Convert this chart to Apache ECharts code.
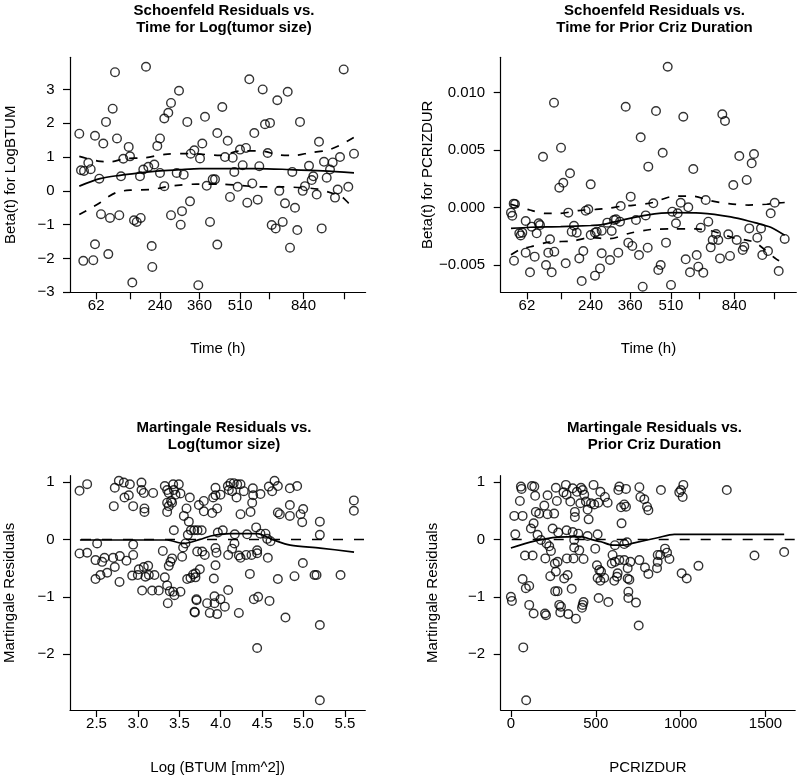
<!DOCTYPE html>
<html>
<head>
<meta charset="utf-8">
<script src="https://cdn.jsdelivr.net/npm/echarts@6/dist/echarts.min.js"></script>
<style>html,body{margin:0;padding:0;background:#fff;}#chart{width:798px;height:776px;}</style>
</head>
<body>
<div id="chart"></div>
<script>
// ---------- DATA ----------
// Top panels: x is the KM-transformed time scale (axis units 0..295.6)
const timeTickPos = [26.2, 60.3, 89.9, 129.5, 170.2, 198.8, 233.5, 273.9];
const timeTickLabels = ['62', '', '240', '360', '510', '', '840', ''];

const schoenfeldTumor = [
[9.3,1.69],[11.0,0.61],[14.0,0.59],[18.3,0.83],[20.7,0.64],[13.3,-2.07],[23.3,-2.05],[25.0,-1.58],[25.0,1.63],[29.3,0.36],[33.3,1.40],[31.0,-0.69],[36.0,2.04],[40.0,-0.80],[38.3,-1.87],[42.7,2.43],[45.0,3.51],[47.0,1.55],[49.3,-0.72],[51.0,0.43],[53.3,0.95],[58.7,1.30],[60.0,1.02],[62.3,-2.71],[64.0,-0.87],[66.7,-0.92],[70.7,-0.80],[70.0,0.43],[73.3,0.63],[76.0,3.67],[78.3,0.71],[81.7,-1.63],[82.3,-2.25],[84.3,0.78],[87.3,1.33],[90.0,1.55],[90.0,0.53],[94.3,2.14],[94.3,0.14],[98.3,2.31],[101.0,2.60],[101.0,-0.72],[106.7,0.53],[109.0,2.96],[110.7,-1.00],[112.0,-0.60],[113.7,0.48],[117.3,2.04],[120.0,-0.31],[120.7,1.10],[124.3,1.20],[128.3,-2.79],
[130.0,0.96],[132.3,1.40],[135.0,2.19],[136.7,0.15],[140.0,-0.92],[142.7,0.34],[145.0,0.34],[147.3,-1.59],[147.3,1.71],[152.3,2.48],[155.0,1.00],[157.7,1.48],[160.0,-0.18],[162.7,0.98],[164.3,0.56],[167.7,0.12],[170.0,1.22],[172.7,0.76],[176.0,1.27],[177.3,-0.35],[179.3,3.30],[182.3,0.22],[184.3,1.71],[187.7,-0.26],[189.3,0.73],[192.7,3.00],[195.0,1.97],[197.7,1.12],[200.0,2.01],[201.7,-1.01],[205.7,-1.11],[207.3,2.68],[209.3,0.00],[212.7,-0.92],[215.0,-0.37],[217.7,2.93],[220.0,-1.68],[222.3,0.56],[225.0,-0.50],[227.3,-1.16],[230.0,2.04],[232.7,0.00],[235.0,0.14],[239.0,0.74],[241.7,0.32],[243.3,0.43],[246.7,-0.11],[249.0,1.45],[251.7,-1.11],[254.0,0.86],[256.7,0.39],[260.0,0.63],[262.7,0.84],[265.0,-0.20],[267.7,0.04],[270.0,1.00],[273.7,3.59],[278.3,0.12],[284.0,1.10]
];
const tumorFit = [[9.3,0.14],[30,0.36],[50,0.46],[70,0.53],[90,0.59],[110,0.63],[130,0.66],[153,0.66],[187,0.66],[220,0.63],[253,0.59],[284,0.53]];
const tumorUpper = [[9.3,1.02],[28,0.88],[40,0.86],[55,0.95],[75,0.98],[95,1.08],[120,1.1],[150,1.05],[170,1.18],[190,1.18],[210,1.06],[225,1.05],[240,1.13],[257,1.2],[270,1.35],[284,1.58]];
const tumorLower = [[9.3,-0.7],[22,-0.49],[30,-0.35],[38,-0.18],[48,-0.03],[60,0.02],[80,0.04],[88,0.07],[100,0.14],[110,0.17],[127,0.2],[150,0.2],[170,0.16],[190,0.12],[210,0.12],[228,0.1],[248,0.05],[263,-0.08],[272,-0.18],[280,-0.4],[284,-0.45]];

const schoenfeldPcriz = [
[10.3,-0.43e-3],[11.6,-0.70e-3],[13.0,0.35e-3],[14.3,0.32e-3],[13.3,-4.61e-3],[18.6,-2.23e-3],[20.0,-2.41e-3],[21.6,-2.17e-3],[25.0,-1.16e-3],[25.0,-3.91e-3],[29.3,-5.62e-3],[31.0,-1.65e-3],[34.0,-4.26e-3],[36.0,-2.23e-3],[38.0,-1.36e-3],[39.3,-1.51e-3],[42.3,4.43e-3],[45.3,-4.99e-3],[47.6,-3.91e-3],[49.3,-2.75e-3],[51.0,-5.62e-3],[53.3,9.13e-3],[53.6,-3.83e-3],[58.6,1.74e-3],[60.3,5.22e-3],[62.6,2.17e-3],[65.0,-4.84e-3],[67.6,-0.43e-3],[69.3,2.99e-3],[71.0,-2.09e-3],[73.3,-1.57e-3],[76.0,-2.17e-3],[78.6,-4.41e-3],[81.0,-6.38e-3],[82.6,-3.77e-3],[85.0,-0.26e-3],[87.6,-0.14e-3],[90.0,2.03e-3],[90.0,-2.38e-3],[94.3,-2.17e-3],[94.3,-5.91e-3],[96.0,-2.09e-3],
[101.0,-2.0e-3],[101.0,-3.97e-3],[99.3,-5.28e-3],[106.6,-1.30e-3],[111.0,-2.03e-3],[109.3,-4.55e-3],[113.3,-1.07e-3],[115.3,-1.01e-3],[117.6,-3.91e-3],[119.3,-1.22e-3],[120.0,0.14e-3],[125.0,8.78e-3],[127.6,-3.04e-3],[130.0,0.96e-3],[131.6,-3.33e-3],[135.3,-1.07e-3],[138.3,-4.12e-3],[140.0,6.12e-3],[142.0,-6.87e-3],[145.0,-0.67e-3],[147.0,-3.48e-3],[147.6,3.57e-3],[152.6,0.38e-3],[155.3,8.41e-3],[157.6,-5.42e-3],[160.0,-4.99e-3],[162.0,4.78e-3],[165.3,-3.04e-3],[167.0,12.26e-3],[170.3,-6.72e-3],[171.6,-0.35e-3],[175.3,-1.36e-3],[177.0,-0.49e-3],[180.0,0.43e-3],[182.6,7.91e-3],[185.0,-4.49e-3],[187.6,0.03e-3],[189.3,-5.62e-3],[192.6,3.36e-3],[196.0,-4.12e-3],[197.6,-5.13e-3],[200.0,-1.74e-3],[202.6,-5.65e-3],[205.0,0.67e-3],[207.6,-1.22e-3],[210.0,-3.45e-3],[212.0,-2.81e-3],[215.3,-2.29e-3],[217.6,-2.81e-3],[219.3,-4.41e-3],[221.6,8.12e-3],[224.3,7.54e-3],[227.6,-2.32e-3],[229.3,-4.20e-3],[232.6,1.97e-3],[236.0,-2.81e-3],[238.6,4.49e-3],[242.0,-3.68e-3],[243.6,-3.39e-3],[246.0,2.41e-3],[248.6,-1.80e-3],[251.0,3.86e-3],[253.3,4.67e-3],[256.6,-2.61e-3],[260.3,-1.80e-3],[261.6,-4.12e-3],
[267.3,-3.77e-3],[270.0,-0.49e-3],[274.0,0.43e-3],[278.0,-5.51e-3],[284.0,-2.72e-3]
];
const pcrizFit = [[10.3,-1.8e-3],[30,-1.7e-3],[60,-1.65e-3],[90,-1.55e-3],[100,-1.5e-3],[122,-1.07e-3],[146,-0.64e-3],[172,-0.43e-3],[200,-0.47e-3],[230,-0.8e-3],[254,-1.3e-3],[262,-1.5e-3],[270,-1.7e-3],[284,-2.4e-3]];
const pcrizUpper = [[10.3,0.3e-3],[29,-0.2e-3],[45,-0.5e-3],[58,-0.5e-3],[78,-0.25e-3],[95,-0.15e-3],[108,-0.05e-3],[122,0.14e-3],[132,0.2e-3],[152,0.45e-3],[170,0.95e-3],[182,1.0e-3],[192,1.0e-3],[210,0.6e-3],[228,0.35e-3],[248,0.23e-3],[266,0.3e-3],[275,0.4e-3],[284,0.45e-3]];
const pcrizLower = [[10.3,-4.1e-3],[20,-3.6e-3],[30,-3.4e-3],[48,-3.0e-3],[72,-2.9e-3],[90,-2.6e-3],[108,-2.7e-3],[130,-2.2e-3],[150,-1.9e-3],[170,-1.85e-3],[195,-1.85e-3],[210,-2.0e-3],[218,-2.2e-3],[232,-2.6e-3],[250,-2.9e-3],[256,-3.1e-3],[276,-4.5e-3],[284,-4.8e-3]];

const btumTicks = [2.5, 3.0, 3.5, 4.0, 4.5, 5.0, 5.5];
const martTumor = [
[2.295,0.847],[2.387,0.963],[2.295,-0.244],[2.387,-0.232],[2.508,-0.07],[2.488,-0.69],[2.488,-0.36],[2.568,-0.39],[2.597,-0.32],[2.548,-0.62],[2.629,-0.58],[2.701,-0.32],[2.721,-0.48],[2.778,-0.74],[2.782,-0.29],[2.862,-0.37],[2.943,-0.27],[2.943,-0.09],[2.931,-0.63],
[2.709,0.58],[2.721,0.90],[2.770,1.02],[2.830,0.99],[2.903,0.96],[2.838,0.73],[2.890,0.77],[2.943,0.58],[3.043,0.99],[3.043,0.86],[3.071,0.81],[3.079,0.54],[3.079,0.48],[3.184,0.81],
[2.999,-0.62],[3.011,-0.52],[3.051,-0.89],[3.071,-0.48],[3.091,-0.65],[3.124,-0.46],[3.132,-0.62],[3.172,-0.89],[3.200,-0.62],[3.252,-0.89],[3.301,-0.20],[3.325,-0.66],[3.353,-0.80],[3.361,-1.11],[3.373,-0.46],[3.385,-0.90],[3.393,-0.39],[3.413,-0.33],[3.426,-0.91],[3.434,0.16],[3.442,-0.97],[3.514,-0.91],[3.534,-0.30],[3.546,-0.14],[3.574,-0.07],[3.555,0.41],[3.587,0.54],[3.615,0.31],[3.627,0.73],[3.603,0.08],[3.635,-0.67],[3.595,-0.69],[3.696,-0.59],[3.708,-1.06],[3.688,-1.27],[3.716,-0.21],
[3.325,0.93],[3.353,0.86],[3.373,0.81],[3.401,0.67],[3.426,0.96],[3.434,0.86],[3.454,0.78],[3.494,0.96],[3.514,0.80],[3.353,0.64],[3.373,0.58],[3.413,0.64],[3.353,0.48],
[3.736,0.60],[3.796,0.67],[3.796,0.49],[3.897,0.46],[3.909,0.73],[3.937,0.90],[3.957,0.54],[3.937,0.77],[3.997,0.78],[4.086,0.93],[4.118,0.98],[4.158,0.98],[4.199,0.96],[4.239,0.96],[4.098,0.86],[4.138,0.84],[4.191,0.73],[4.279,0.84],[4.388,0.89],[4.392,0.77],[4.480,0.79],[4.380,0.64],[4.360,0.48],[4.239,0.44],[4.581,0.92],[4.621,0.84],[4.650,1.02],[4.690,0.93],[4.690,0.47],[4.714,0.44],[4.835,0.89],[4.923,0.93],[4.835,0.60],[4.835,0.41],[4.964,0.44],[4.996,0.53],[4.984,0.30],[5.197,0.31],[5.197,0.08],[5.608,0.68],[5.608,0.50],
[3.64,0.16],[3.68,0.16],[3.72,0.16],[3.77,0.16],[3.965,0.12],[4.025,0.16],
[3.776,-0.21],[3.808,-0.27],[3.937,-0.15],[3.949,-0.23],[4.090,-0.27],[4.138,-0.16],[4.166,-0.07],[4.170,0.09],[4.219,-0.28],[4.239,-0.32],[4.307,-0.27],[4.319,0.09],[4.372,-0.27],[4.428,0.21],[4.440,-0.19],[4.440,-0.24],[4.480,0.10],[4.541,0.10],[4.561,0.01],[4.569,-0.32],[4.601,-0.03],[4.992,-0.41],
[3.695,-0.66],[3.748,-0.52],[3.667,-0.61],[3.917,-0.68],[3.937,-0.45],[3.707,-1.04],[3.683,-1.26],[3.836,-1.11],[3.868,-1.28],[3.925,-0.99],[3.925,-1.11],[3.957,-1.30],[3.997,-1.04],[4.050,-1.17],[4.090,-0.88],[4.219,-1.28],[4.352,-0.60],[4.400,-1.04],[4.452,-1.00],[4.440,-1.89],[4.589,-1.07],[4.690,-0.69],[4.782,-1.36],[4.891,-0.64],[5.133,-0.62],[5.157,-0.62],[5.197,-1.49],[5.447,-0.62],[5.197,-2.80]
];
const martTumorFit = [[2.30,-0.01],[3.35,-0.01],[3.55,-0.07],[3.75,0.0],[3.88,0.06],[4.12,0.1],[4.44,0.1],[4.64,-0.01],[4.84,-0.1],[5.2,-0.15],[5.61,-0.22]];

const pcrizTicks = [0, 500, 1000, 1500];
const martPcriz = [
[0,-1.0],[6,-1.07],[26,0.09],[20,0.41],[53,0.67],[59,0.92],[63,0.88],[69,0.41],[69,-0.69],[83,-0.28],[88,-0.85],[73,-1.88],[90,-2.80],[108,-1.14],[118,0.19],[124,0.93],[128,-0.28],[134,0.28],[138,0.92],[143,0.76],[134,-1.29],[108,-0.81],[147,0.48],[157,0.08],[167,0.45],[177,-0.01],[197,0.59],[201,-1.29],[207,-1.32],[203,-0.33],[210,-0.07],[216,0.77],[216,0.44],[226,-0.12],[232,-0.64],[236,-0.20],[246,0.19],[255,0.45],[265,-0.56],[259,-0.42],[261,-0.90],[265,0.90],[271,0.67],[275,-0.39],[279,0.12],[275,-0.90],[285,-1.14],[291,-1.27],[295,-1.17],[310,0.82],[314,-0.68],[324,0.95],[328,0.16],[328,0.78],[330,-0.33],[334,-0.62],[338,-1.30],[350,0.66],[358,-0.86],[364,0.89],[364,0.13],[369,-0.33],[373,-0.01],[373,-0.14],[377,0.48],[377,0.39],[383,-1.38],[389,0.83],[397,0.10],[403,-0.19],[409,0.63],[413,0.90],[423,0.86],[428,-0.34],[432,0.78],[442,0.66],[452,0.52],[458,0.35],[452,0.06],[428,-1.09],[423,-1.14],[419,-1.19],[472,0.63],[487,0.95],[511,0.09],[497,-0.16],[507,-0.45],[511,-0.67],[517,-1.02],[527,0.83],
[491,0.61],[515,0.64],[554,0.74],[570,0.64],[639,0.92],[633,0.86],[678,0.88],[649,0.56],[668,0.61],[678,0.57],[652,0.28],[757,0.91],[763,0.74],[786,0.70],[802,0.57],[810,0.51],[884,0.86],[992,0.82],[1002,0.86],[1016,0.95],[1012,0.74],[1272,0.86],
[613,-0.10],[668,-0.08],[684,-0.05],[599,-0.27],[594,-0.42],[613,-0.39],[639,-0.36],[668,-0.36],[704,-0.39],[688,-0.50],[757,-0.36],[790,-0.49],[810,-0.60],[865,-0.27],[865,-0.39],[861,-0.50],[880,-0.27],[908,-0.16],[920,-0.23],[934,-0.34],[1006,-0.59],[1036,-0.68],[1105,-0.46],[1435,-0.28],[1610,-0.22],
[521,-0.53],[531,-0.56],[527,-0.72],[550,-0.67],[609,-0.72],[625,-0.65],[629,-0.59],[688,-0.68],[698,-0.70],[574,-1.09],[692,-0.91],[692,-1.02],[737,-1.10],[753,-1.50]
];
const martPcrizFit = [[0,-0.15],[138,-0.03],[275,0.04],[413,0.05],[472,0.0],[531,-0.04],[600,-0.1],[668,-0.1],[727,-0.06],[865,0.03],[963,0.09],[1610,0.09]];

const martTicks = [-2, -1, 0, 1];
const betaTumorTicks = [-3, -2, -1, 0, 1, 2, 3];
const betaPcrizTicks = [-0.005, 0, 0.005, 0.010];

// ---------- STYLE / BUILD ----------
const FONT = '"Liberation Sans", Arial, Helvetica, sans-serif';
const BLACK = '#000';
const minus = (s, neg) => (neg ? '\u2212' : '') + s;
const fmt = d => v => minus(Math.abs(v).toFixed(d), v < -1e-12);

function axisBase(extra) {
  return Object.assign({
    type: 'value',
    axisLine: { show: true, onZero: false, lineStyle: { color: BLACK, width: 1.2 } },
    splitLine: { show: false },
    nameLocation: 'middle',
    nameTextStyle: { fontSize: 15, color: BLACK, fontFamily: FONT },
  }, extra);
}
function xAx(gi, min, max, ticks, labelVals, formatter, name, gap) {
  return axisBase({
    gridIndex: gi, min, max, name, nameGap: gap,
    axisTick: { show: true, length: 7, lineStyle: { color: BLACK, width: 1.2 }, customValues: ticks },
    axisLabel: { color: BLACK, fontSize: 15, fontFamily: FONT, margin: 6, customValues: labelVals, formatter },
  });
}
function yAx(gi, min, max, ticks, formatter, name, gap) {
  return axisBase({
    gridIndex: gi, min, max, name, nameGap: gap, nameRotate: 90,
    axisTick: { show: true, length: 7, lineStyle: { color: BLACK, width: 1.2 }, customValues: ticks },
    axisLabel: { color: BLACK, fontSize: 15, fontFamily: FONT, margin: 15.5, customValues: ticks, formatter },
  });
}
const timeLabelVals = timeTickPos.filter((p, i) => timeTickLabels[i] !== '');
const timeFormatter = v => timeTickLabels[timeTickPos.indexOf(v)];

function scatter(i, data) {
  return { type: 'scatter', xAxisIndex: i, yAxisIndex: i, data, symbol: 'circle', symbolSize: 8.6,
    itemStyle: { color: 'rgba(0,0,0,0)', borderColor: BLACK, borderWidth: 1.4 }, silent: true, z: 3 };
}
function line(i, data, dashed) {
  return { type: 'line', xAxisIndex: i, yAxisIndex: i, data, showSymbol: false, smooth: 0.3, silent: true,
    lineStyle: { color: BLACK, width: 1.7, type: dashed ? [8, 9] : 'solid' }, z: 2 };
}
function zeroLine(i, xmin, xmax) {
  return { type: 'line', xAxisIndex: i, yAxisIndex: i, data: [[xmin, 0], [xmax, 0]], showSymbol: false, silent: true,
    lineStyle: { color: BLACK, width: 1.4, type: [10, 11], dashOffset: 10 }, z: 1 };
}
function title(text, left, top) {
  return { text, left, top, textAlign: 'center', padding: 0,
    textStyle: { fontSize: 15, fontWeight: 'bold', color: BLACK, fontFamily: FONT, lineHeight: 17.5 } };
}

const chart = echarts.init(document.getElementById('chart'), null, { renderer: 'canvas' });
chart.setOption({
  animation: false,
  backgroundColor: '#fff',
  title: [
    title('Schoenfeld Residuals vs.\nTime for Log(tumor size)', 224, 2),
    title('Schoenfeld Residuals vs.\nTime for Prior Criz Duration', 654.5, 2),
    title('Martingale Residuals vs.\nLog(tumor size)', 224, 419),
    title('Martingale Residuals vs.\nPrior Criz Duration', 654.5, 419),
  ],
  grid: [
    { left: 70, top: 57.3, width: 295.6, height: 235 },
    { left: 500.7, top: 57.3, width: 295.6, height: 235 },
    { left: 70, top: 475.7, width: 295.3, height: 234.3 },
    { left: 500.7, top: 475.7, width: 294.5, height: 234.3 },
  ],
  xAxis: [
    xAx(0, 0, 295.6, timeTickPos, timeLabelVals, timeFormatter, 'Time (h)', 49),
    xAx(1, 0, 295.6, timeTickPos, timeLabelVals, timeFormatter, 'Time (h)', 49),
    xAx(2, 2.18, 5.746, btumTicks, btumTicks, v => v.toFixed(1), 'Log (BTUM [mm^2])', 50),
    xAx(3, -60, 1675, pcrizTicks, pcrizTicks, v => String(v), 'PCRIZDUR', 50),
  ],
  yAxis: [
    yAx(0, -3, 3.95, betaTumorTicks, fmt(0), 'Beta(t) for LogBTUM', 52),
    yAx(1, -0.00736, 0.01308, betaPcrizTicks, fmt(3), 'Beta(t) for PCRIZDUR', 60),
    yAx(2, -2.97, 1.11, martTicks, fmt(0), 'Martingale Residuals', 53),
    yAx(3, -2.97, 1.11, martTicks, fmt(0), 'Martingale Residuals', 60),
  ],
  series: [
    scatter(0, schoenfeldTumor), line(0, tumorFit, false), line(0, tumorUpper, true), line(0, tumorLower, true),
    scatter(1, schoenfeldPcriz), line(1, pcrizFit, false), line(1, pcrizUpper, true), line(1, pcrizLower, true),
    scatter(2, martTumor), line(2, martTumorFit, false), zeroLine(2, 2.18, 5.746),
    scatter(3, martPcriz), line(3, martPcrizFit, false), zeroLine(3, -60, 1675),
  ],
});
</script>
</body>
</html>
